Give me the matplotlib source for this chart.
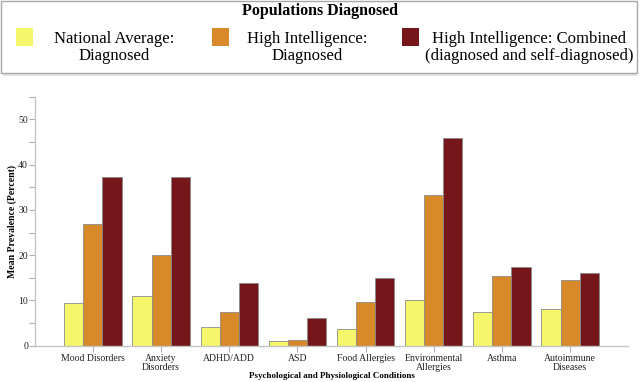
import numpy as np
import matplotlib.pyplot as plt
from matplotlib.patches import Rectangle
from matplotlib.ticker import MultipleLocator

plt.rcParams['font.family'] = ['Liberation Serif', 'DejaVu Serif']

conditions = ['Mood Disorders', 'Anxiety\nDisorders', 'ADHD/ADD', 'ASD', 'Food Allergies',
              'Environmental\nAllergies', 'Asthma', 'Autoimmune\nDiseases']
national_dx = [9.5, 10.9, 4.1, 1.0, 3.7, 10.0, 7.4, 8.0]
high_iq_dx = [26.8, 20.0, 7.4, 1.2, 9.6, 33.2, 15.4, 14.6]
high_iq_combined = [37.3, 37.3, 13.9, 6.2, 14.9, 45.9, 17.3, 16.0]

series_names = ['National Average:\nDiagnosed', 'High Intelligence:\nDiagnosed',
                'High Intelligence: Combined\n(diagnosed and self-diagnosed)']
series_colors = ['#f6f66a', '#d88a2b', '#75171a']

W, H = 640.0, 382.0
fig = plt.figure(figsize=(6.4, 3.82), dpi=100)
ax = fig.add_axes([35 / W, 1 - 345.7 / H, 593 / W, 249 / H])

x = np.arange(len(conditions))
w = 0.28
for k, vals in enumerate([national_dx, high_iq_dx, high_iq_combined]):
    ax.bar(x + (k - 1) * w, vals, width=w, color=series_colors[k],
           edgecolor='#8a8a8a', linewidth=0.6)

ax.set_xlim(-0.85, 7.85)
ax.set_ylim(0, 55)
ax.yaxis.set_major_locator(MultipleLocator(10))
ax.yaxis.set_minor_locator(MultipleLocator(5))
ax.set_xticks(x)
ax.set_xticklabels(conditions, fontsize=7, linespacing=0.95)
ax.tick_params(axis='both', colors='#b0b0b0', labelcolor='#222222', labelsize=7, length=4, width=0.8)
ax.tick_params(axis='y', which='minor', colors='#b0b0b0', length=4, width=0.8)
ax.tick_params(axis='x', pad=2)
ax.tick_params(axis='y', pad=1)
for s in ['top', 'right']:
    ax.spines[s].set_visible(False)
for s in ['left', 'bottom']:
    ax.spines[s].set_color('#c4c4c4')
    ax.spines[s].set_linewidth(1.0)

ax.set_ylabel('Mean Prevalence (Percent)', fontsize=7, fontweight='bold')
ax.yaxis.set_label_coords(-17.5 / 593, 0.5)
ax.set_xlabel('Psychological and Physiological Conditions', fontsize=6.5, fontweight='bold', labelpad=0.5)

# legend box drawn by hand: title, coloured squares, centred two-line labels
fig.add_artist(Rectangle((3 / W, 1 - 75.5 / H), 634 / W, 73 / H, transform=fig.transFigure,
                         facecolor='#e6e6e6', edgecolor='none', zorder=0))
fig.add_artist(Rectangle((0.5 / W, 1 - 72.7 / H), 636 / W, 72 / H, transform=fig.transFigure,
                         facecolor='white', edgecolor='#a8a8a8', linewidth=1.0, zorder=1))
fig.text(0.5, 1 - 11 / H, 'Populations Diagnosed', ha='center', va='center',
         fontsize=11.5, fontweight='bold', zorder=2)
patch_x = [16, 212, 402]
text_x = [114, 307, 529]
for k in range(3):
    fig.add_artist(Rectangle((patch_x[k] / W, 1 - 46 / H), 17 / W, 18 / H, transform=fig.transFigure,
                             facecolor=series_colors[k], edgecolor='none', zorder=2))
    fig.text(text_x[k] / W, 1 - 47.5 / H, series_names[k], ha='center', va='center',
             multialignment='center', fontsize=12, linespacing=1.15, zorder=2)

fig.savefig('out.png', dpi=100)
